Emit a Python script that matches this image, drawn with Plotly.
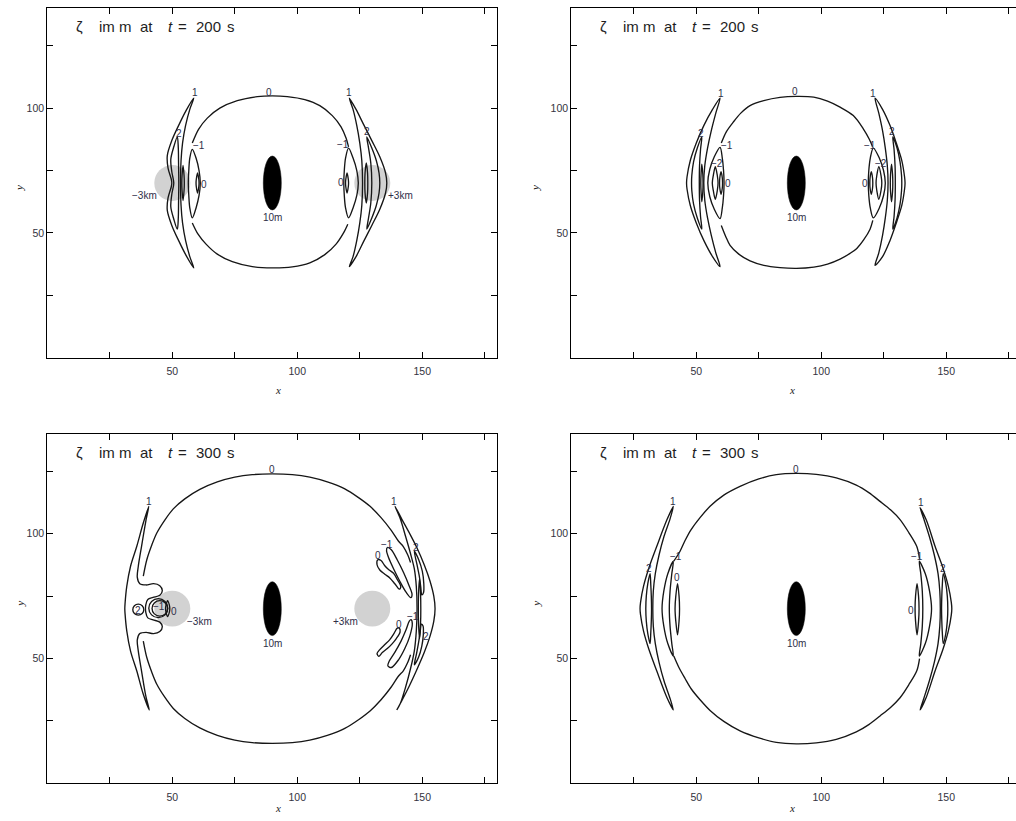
import plotly.graph_objects as go

# ---------------------------------------------------------------- layout grid
FIG_W, FIG_H = 1016, 821
PX_PER_UNIT = 2.5
LEFT_PANEL_PX = (47.3, 496.7)
RIGHT_PANEL_PX = (571.3, 1016.0)
TOP_PANEL_PX = (8.3, 357.7)
BOTTOM_PANEL_PX = (434.0, 783.3)

X_TICKS = [25, 50, 75, 100, 125, 150, 175]
X_TICK_TEXT = ["", "50", "", "100", "", "150", ""]
Y_TICKS = [25, 50, 75, 100, 125]
Y_TICK_TEXT = ["", "50", "", "100", ""]
Y_RANGE = [0, 140]

# ---------------------------------------------------------------- common marks
island_center = (90.0, 70.0)
island_half_axes = (3.6, 10.8)
source_centers = [(50.0, 70.0), (130.0, 70.0)]
source_radius = 7.2
source_labels = {"tl": [("−3km", 38.7, 64.9), ("+3km", 141.4, 64.9)],
                 "bl": [("−3km", 60.8, 64.8), ("+3km", 119.3, 64.8)]}
island_label = ("10m", 90.0, 56.1)
times = {"tl": "200", "tr": "200", "bl": "300", "br": "300"}

# ---------------------------------------------------------------- t = 200 s, with sources
tl_zero_top = [(58, 86), (60.5, 91.5), (64, 96), (69, 100), (76, 103), (84, 104.6), (90, 104.9),
               (96, 104.6), (103, 103.4), (109, 101), (114, 97), (117.5, 92.5), (119.5, 88), (120.5, 84.5)]
tl_zero_bottom = [(58, 54), (60.3, 49.5), (63.5, 45.5), (68, 41.5), (74, 38.5), (82, 36.5), (90, 36),
                  (98, 36.4), (105, 38), (111, 41.3), (115.5, 45.5), (118.5, 50), (120.2, 53.5)]
tl_closed = [
    [(58.6, 104), (55.5, 99), (52.5, 93), (49.8, 87), (48, 81), (48.3, 76), (49.6, 71.5), (49.8, 70),
     (49.6, 68.5), (48.3, 64), (48, 59), (49.8, 53), (52.5, 47), (55.5, 41), (58.6, 36), (57, 40.5),
     (55.3, 47), (54.1, 54), (53.5, 61), (53.3, 70), (53.5, 79), (54.1, 86), (55.3, 93), (57, 99.5), (58.6, 104)],
    [(52, 88.5), (50.6, 84.5), (49.4, 79.5), (49.8, 74.5), (50.6, 70), (49.8, 65.5), (49.4, 60.5), (50.6, 55.5),
     (52, 51.5), (52.4, 56), (52.5, 62), (52.6, 70), (52.5, 78), (52.4, 84), (52, 88.5)],
    [(54.3, 77), (54.7, 73), (54.8, 70), (54.7, 67), (54.3, 63), (53.9, 67), (53.8, 70), (53.9, 73), (54.3, 77)],
    [(58, 83.5), (59.5, 80), (60.7, 75), (61.2, 70), (60.7, 65), (59.5, 60), (58, 56), (57, 60), (56.6, 65),
     (56.4, 70), (56.6, 75), (57, 80), (58, 83.5)],
    [(60.1, 74), (60.6, 71.5), (60.7, 70), (60.6, 68.5), (60.1, 66), (59.6, 68.5), (59.5, 70), (59.6, 71.5), (60.1, 74)],
    [(120.8, 104), (123.5, 99.5), (126.5, 93.5), (129.8, 87), (133, 80.5), (135.3, 74), (135.8, 70), (135.3, 66),
     (133, 59.5), (129.8, 53), (126.5, 46.5), (123.5, 40.5), (120.8, 36.5), (122.3, 40.5), (123.8, 47), (125, 54),
     (125.8, 61), (126.1, 70), (125.8, 79), (125, 86), (123.8, 93), (122.3, 99.5), (120.8, 104)],
    [(127.8, 88.5), (129.8, 84), (131.6, 79), (132.7, 74), (133, 70), (132.7, 66), (131.6, 61), (129.8, 56),
     (127.8, 51.5), (128.5, 56), (129.4, 62), (129.8, 70), (129.4, 78), (128.5, 84), (127.8, 88.5)],
    [(127.6, 78), (128.1, 74), (128.2, 70), (128.1, 66), (127.6, 62), (127.1, 66), (127, 70), (127.1, 74), (127.6, 78)],
    [(120.5, 84), (122.3, 80), (123.8, 75), (124.4, 70), (123.8, 65), (122.3, 60), (120.5, 56), (119.3, 60),
     (118.8, 65), (118.6, 70), (118.8, 75), (119.3, 80), (120.5, 84)],
    [(119.9, 74), (120.4, 71.5), (120.5, 70), (120.4, 68.5), (119.9, 66), (119.4, 68.5), (119.3, 70), (119.4, 71.5), (119.9, 74)],
]
tl_labels = [("0", 88.8, 106.2), ("1", 59.1, 106.2), ("2", 52.7, 89.9), ("−1", 60.6, 85.2), ("0", 62.6, 69.6),
             ("1", 120.8, 106.2), ("2", 127.7, 90.6), ("−1", 118.2, 85.6), ("0", 117.3, 70.3)]

# ---------------------------------------------------------------- t = 200 s, island only
tr_zero_top = [(60, 86), (62, 90.5), (64.8, 94.4), (67.8, 98), (71.5, 101), (77, 103), (83.5, 104.3), (90, 104.7),
               (97, 104.4), (102.5, 102.8), (107.5, 100.4), (112.8, 97), (116.8, 91.7), (119.2, 87.5), (120.5, 84.5)]
tr_zero_bottom = [(60, 53), (61.8, 48.5), (63.5, 45), (67, 41.5), (71.5, 38.8), (77, 37), (83.5, 36.1), (90, 35.8),
                  (97, 36.3), (102.5, 37.5), (107.5, 39.5), (111.5, 41.8), (114.2, 43.8), (117, 47.3), (119.5, 51.5), (120.6, 55)]
tr_closed = [
    [(59.5, 104), (56.5, 99.5), (53, 93), (50, 86), (47.6, 79), (46.3, 72.5), (46.1, 70), (46.3, 67.5), (47.6, 61),
     (50, 54), (53, 47), (56.5, 40.5), (59.5, 36.5), (57.8, 42), (56, 49), (54.5, 56), (53.4, 63), (53, 70),
     (53.4, 77), (54.5, 84), (56, 91), (57.8, 98), (59.5, 104)],
    [(52.2, 88.5), (50.4, 84), (48.9, 78.5), (48.2, 73), (48.1, 70), (48.2, 67), (48.9, 61.5), (50.4, 56), (52.2, 51.5),
     (51.7, 56.5), (51.3, 63), (51.2, 70), (51.3, 77), (51.7, 83.5), (52.2, 88.5)],
    [(52.2, 77.5), (52.6, 73.5), (52.7, 70), (52.6, 66.5), (52.2, 62.5), (51.9, 66.5), (51.8, 70), (51.9, 73.5), (52.2, 77.5)],
    [(59.5, 84.3), (57.2, 80.5), (55.4, 75.5), (54.6, 70), (55.4, 64.5), (57.2, 59.5), (59.5, 55.7), (60.4, 60),
     (60.9, 65), (61.1, 70), (60.9, 75), (60.4, 80), (59.5, 84.3)],
    [(57.6, 76.5), (58.4, 73), (58.7, 70), (58.4, 67), (57.6, 63.5), (56.8, 67), (56.4, 70), (56.8, 73), (57.6, 76.5)],
    [(59.9, 74.5), (60.4, 72), (60.5, 70), (60.4, 68), (59.9, 65.5), (59.4, 68), (59.3, 70), (59.4, 72), (59.9, 74.5)],
    [(121.5, 104), (124.5, 99.5), (127.5, 93), (130, 86), (132.2, 79), (133.3, 72.5), (133.5, 70), (133.3, 67.5),
     (132.2, 61), (130, 54), (127.5, 47), (124.5, 40.5), (121.5, 37), (123, 42), (124.5, 49), (125.6, 56),
     (126.4, 63), (126.7, 70), (126.4, 77), (125.6, 84), (124.5, 91), (123, 98), (121.5, 104)],
    [(128.6, 88.5), (130.3, 84), (131.5, 78.5), (132.1, 73), (132.2, 70), (132.1, 67), (131.5, 61.5), (130.3, 56),
     (128.6, 51.5), (129.1, 56.5), (129.5, 63), (129.6, 70), (129.5, 77), (129.1, 83.5), (128.6, 88.5)],
    [(128.1, 77.5), (128.5, 73.5), (128.6, 70), (128.5, 66.5), (128.1, 62.5), (127.7, 66.5), (127.6, 70), (127.7, 73.5), (128.1, 77.5)],
    [(120.8, 84), (123.2, 80), (124.9, 75), (125.6, 70), (124.9, 65), (123.2, 60), (120.8, 56), (119.6, 60),
     (119, 65), (118.8, 70), (119, 75), (119.6, 80), (120.8, 84)],
    [(123, 76.5), (123.9, 73), (124.2, 70), (123.9, 67), (123, 63.5), (122.2, 67), (121.9, 70), (122.2, 73), (123, 76.5)],
    [(120, 74.5), (120.5, 72), (120.6, 70), (120.5, 68), (120, 65.5), (119.5, 68), (119.4, 70), (119.5, 72), (120, 74.5)],
]
tr_labels = [("0", 89.5, 106.6), ("1", 59.8, 105.9), ("2", 51.9, 89.9), ("−1", 62.1, 85.2), ("−2", 58.4, 77.8),
             ("0", 62.6, 70.0), ("1", 120.8, 105.9), ("2", 128.2, 90.6), ("−1", 119.3, 85.2), ("−2", 123.7, 77.8),
             ("0", 117.3, 70.0)]

# ---------------------------------------------------------------- t = 300 s, with sources
bl_zero_top = [(38.4, 83), (39.8, 89.6), (41.8, 95.5), (43.8, 100.3), (47, 105.5), (50.4, 110), (55, 114), (61, 117.8),
               (68, 120.8), (75, 122.7), (82, 123.7), (90, 124), (98, 123.7), (105, 122.7), (112, 120.8), (119, 118),
               (124.5, 114.5), (129.1, 111), (133.5, 106.5), (137.5, 101.5), (140.5, 97), (142.4, 94.9),
               (144.2, 91.5), (145.3, 88.5)]
bl_zero_bottom = [(38.4, 57), (39.8, 50.4), (41.8, 44.5), (43.8, 39.7), (47, 34.5), (50.4, 30), (55, 26), (61, 22.2),
                  (68, 19.2), (75, 17.3), (82, 16.3), (90, 16), (98, 16.3), (105, 17.3), (112, 19.2), (119, 22),
                  (124.5, 25.5), (129.1, 29), (133.5, 33.5), (137.5, 38.5), (140.5, 43), (142.4, 45.1),
                  (144.2, 48.5), (145.3, 51.5)]
bl_closed = [
    [(40.6, 111), (38.3, 104), (35.8, 95), (33.3, 87), (31.8, 79), (31.1, 72), (31, 70), (31.1, 68), (31.8, 61),
     (33.3, 53), (35.8, 45), (38.3, 36), (40.8, 29.4), (39.4, 35), (37.7, 45), (36.4, 53), (36, 57.5), (37, 60),
     (39.5, 60.5), (42.5, 60), (45, 60.8), (46, 62.8), (45, 64.6), (42.3, 65.5), (40.2, 66.3), (39.4, 68.5),
     (39.4, 71.5), (40.2, 73.7), (42.3, 74.5), (45, 75.4), (46, 77.2), (45, 79.2), (42.5, 80), (39.5, 79.5),
     (37, 80), (36, 82.5), (36.4, 87), (37.7, 95), (39.4, 105), (40.6, 111)],
    [(48.1, 73.2), (48.8, 71.5), (49, 70), (48.8, 68.5), (48.1, 66.8), (47.5, 68.5), (47.3, 70), (47.5, 71.5), (48.1, 73.2)],
    [(139.1, 111), (142, 105.5), (145, 100), (147.8, 94.5), (150.8, 87.5), (153.1, 81), (154.6, 75), (155.1, 70),
     (154.6, 65), (153.1, 59), (150.8, 52.5), (147.8, 45.5), (144.8, 39), (142, 33.5), (139.8, 29.4), (141.2, 32),
     (143.3, 38.5), (145.3, 46), (146.8, 53), (147.6, 61), (147.9, 70), (147.6, 79), (146.8, 86), (145.3, 92),
     (143.3, 99), (141.2, 106), (139.1, 111)],
    [(146.8, 93), (148.6, 89.5), (150, 85), (150.6, 80), (150.5, 76.5), (149.8, 75.5), (149.4, 78.5), (148.8, 83),
     (147.8, 88), (146.8, 93)],
    [(146.8, 47.5), (148.5, 50.5), (149.8, 55), (150.4, 59.5), (150.3, 63), (149.6, 63.8), (149.2, 61), (148.6, 57),
     (147.7, 52), (146.8, 47.5)],
    [(148.9, 82), (149.3, 76), (149.4, 70), (149.3, 64), (148.9, 58), (148.5, 64), (148.4, 70), (148.5, 76), (148.9, 82)],
    [(136, 94.5), (137.6, 93.6), (140, 89.5), (142.5, 84.5), (144.6, 79.5), (145.9, 75.7), (145.4, 74.4), (143.5, 76.6),
     (141, 81), (138.5, 86), (136.5, 90.5), (135.7, 93.2), (136, 94.5)],
    [(132.2, 89.6), (133.5, 89.3), (135, 87.2), (136.6, 85.6), (138.5, 84.2), (140, 81.7), (141.4, 78.8), (140.8, 77.8),
     (139, 80), (137, 82.3), (135, 83.8), (133, 85.5), (131.9, 87.6), (132.2, 89.6)],
    [(145.5, 65.6), (146, 64), (145, 59), (143, 54), (140.5, 49.5), (137.6, 46.4), (136.2, 47.1), (136.8, 49),
     (139, 52.5), (141.5, 57), (143.5, 61.5), (144.8, 65), (145.5, 65.6)],
    [(140.8, 62.2), (141.1, 60.6), (139.6, 58), (138, 56), (136, 54), (134, 52.4), (132.6, 50.9), (131.9, 52),
     (133, 53.6), (135, 55.6), (137, 57.6), (138.7, 60.1), (140, 62.2), (140.8, 62.2)],
]
# ring-shaped contours: centre x, centre y, radius
bl_rings = [(36.4, 69.6, 2.2), (44.4, 70.2, 3.8), (45.0, 70.1, 3.1)]
bl_labels = [("0", 89.7, 125.6), ("1", 40.8, 113.0), ("2", 36.2, 69.2), ("−1", 44.7, 70.8), ("0", 50.7, 68.8),
             ("1", 138.7, 113.0), ("−1", 135.8, 95.8), ("0", 132.2, 91.2), ("2", 147.3, 94.6), ("−1", 146.3, 67.0),
             ("0", 140.7, 63.6), ("2", 151.6, 59.0)]

# ---------------------------------------------------------------- t = 300 s, island only
br_zero_top = [(41, 89), (43.5, 93), (45.5, 97.3), (47.8, 101.5), (51.5, 106.5), (55.5, 111), (61, 115.5),
               (67.5, 119), (75, 122), (82, 123.7), (90, 124.2), (98, 123.8), (106, 122.4), (114, 119.5),
               (119, 116.5), (123.5, 113), (127.8, 109.5), (131.5, 105.7), (135, 100.5), (138.2, 94.9), (139.3, 90)]
br_zero_bottom = [(41, 51), (43, 46.5), (45.5, 42), (48, 37.8), (51.5, 33.5), (55.5, 29.2), (61, 24.8), (67.5, 21),
                  (75, 18.2), (82, 16.4), (90, 15.8), (98, 16.2), (106, 17.6), (114, 20.6), (119, 23.5),
                  (123.5, 27), (127.8, 30.5), (131.5, 34.3), (135, 39.5), (138.2, 45.1), (139.3, 50)]
br_closed = [
    [(40.8, 111), (38.2, 105.5), (34.2, 95), (31.1, 86.5), (28.9, 79), (27.7, 72.5), (27.5, 70), (27.7, 67.5),
     (28.9, 61), (31.1, 53.5), (34.2, 45), (38.2, 34.5), (40.8, 29.4), (39.5, 34), (37.1, 41), (35.1, 48.5),
     (33.6, 56), (32.8, 63), (32.6, 70), (32.8, 77), (33.6, 84), (35.1, 91.5), (37.1, 99), (39.5, 106), (40.8, 111)],
    [(31.5, 84), (30.6, 80), (30, 75), (29.8, 70), (30, 65), (30.6, 60), (31.5, 56), (31.8, 60.5), (32, 65),
     (32.1, 70), (32, 75), (31.8, 79.5), (31.5, 84)],
    [(40.8, 89), (38.6, 84), (37, 77), (36.3, 70), (37, 63), (38.6, 56), (40.8, 51), (40.2, 56), (39.5, 63),
     (39.2, 70), (39.5, 77), (40.2, 84), (40.8, 89)],
    [(42.5, 80), (43.1, 75), (43.3, 70), (43.1, 65), (42.5, 59.5), (41.8, 65), (41.5, 70), (41.8, 75), (42.5, 80)],
    [(139.5, 110.5), (142, 105.5), (145.5, 95), (148.6, 86.5), (150.8, 79), (152, 72.5), (152.2, 70), (152, 67.5),
     (150.8, 61), (148.6, 53.5), (145.5, 45), (142, 34.5), (139.5, 29.4), (141, 34), (143.2, 41), (145.2, 48.5),
     (146.7, 56), (147.4, 63), (147.6, 70), (147.4, 77), (146.7, 84), (145.2, 91.5), (143.2, 99), (141, 106), (139.5, 110.5)],
    [(148.8, 84), (149.8, 80), (150.4, 75), (150.6, 70), (150.4, 65), (149.8, 60), (148.8, 56), (148.4, 60.5),
     (148.2, 65), (148.1, 70), (148.2, 75), (148.4, 79.5), (148.8, 84)],
    [(139.2, 89), (141.6, 84), (143.3, 77), (144.1, 70), (143.3, 63), (141.6, 56), (139.2, 51), (139.8, 56),
     (140.4, 63), (140.6, 70), (140.4, 77), (139.8, 84), (139.2, 89)],
    [(138.3, 80), (138.9, 75), (139.1, 70), (138.9, 65), (138.3, 59.5), (137.7, 65), (137.5, 70), (137.7, 75), (138.3, 80)],
]
br_labels = [("0", 89.9, 125.8), ("1", 40.8, 113.0), ("2", 31.2, 86.1), ("−1", 42.0, 90.9), ("0", 42.2, 82.4),
             ("1", 139.7, 112.7), ("2", 148.8, 86.1), ("−1", 138.4, 90.9), ("0", 136.0, 69.3)]

# ---------------------------------------------------------------- styling
LINE_COLOR = "#161616"
LINE_WIDTH = 1.35
LABEL_FONT = dict(family="Liberation Sans, Arial, sans-serif", size=10, color="#2e2e48")
TICK_FONT = dict(family="Liberation Sans, Arial, sans-serif", size=10.5, color="#333340")
TITLE_FONT = dict(family="Liberation Sans, Arial, sans-serif", size=15, color="#1e1e1e")
SOURCE_FILL = "#d2d2d2"


def frac_x(px):
    return px / FIG_W


def frac_y(py):
    return 1 - py / FIG_H


panels = {
    "tl": dict(xa="x", ya="y", xpx=LEFT_PANEL_PX, ypx=TOP_PANEL_PX, sources=True,
               top=tl_zero_top, bottom=tl_zero_bottom, closed=tl_closed, rings=[], labels=tl_labels),
    "tr": dict(xa="x2", ya="y2", xpx=RIGHT_PANEL_PX, ypx=TOP_PANEL_PX, sources=False,
               top=tr_zero_top, bottom=tr_zero_bottom, closed=tr_closed, rings=[], labels=tr_labels),
    "bl": dict(xa="x3", ya="y3", xpx=LEFT_PANEL_PX, ypx=BOTTOM_PANEL_PX, sources=True,
               top=bl_zero_top, bottom=bl_zero_bottom, closed=bl_closed, rings=bl_rings, labels=bl_labels),
    "br": dict(xa="x4", ya="y4", xpx=RIGHT_PANEL_PX, ypx=BOTTOM_PANEL_PX, sources=False,
               top=br_zero_top, bottom=br_zero_bottom, closed=br_closed, rings=[], labels=br_labels),
}

fig = go.Figure()
shapes = []
annotations = []


def add_curve(points, xa, ya):
    fig.add_trace(go.Scatter(
        x=[p[0] for p in points], y=[p[1] for p in points], mode="lines",
        line=dict(color=LINE_COLOR, width=LINE_WIDTH, shape="spline", smoothing=0.9),
        xaxis=xa, yaxis=ya, hoverinfo="skip", showlegend=False))


for key, p in panels.items():
    xa, ya = p["xa"], p["ya"]
    # source discs underneath the contours
    if p["sources"]:
        for cx, cy in source_centers:
            shapes.append(dict(type="circle", xref=xa, yref=ya, layer="below",
                               x0=cx - source_radius, x1=cx + source_radius,
                               y0=cy - source_radius, y1=cy + source_radius,
                               fillcolor=SOURCE_FILL, line=dict(width=0)))
        for txt, lx, ly in source_labels[key[0] + "l"]:
            annotations.append(dict(text=txt, x=lx, y=ly, xref=xa, yref=ya, showarrow=False,
                                    font=LABEL_FONT, xanchor="center", yanchor="middle"))
    # island
    icx, icy = island_center
    iax, iby = island_half_axes
    shapes.append(dict(type="circle", xref=xa, yref=ya, x0=icx - iax, x1=icx + iax,
                       y0=icy - iby, y1=icy + iby, fillcolor="black", line=dict(color="black", width=0.5)))
    annotations.append(dict(text=island_label[0], x=island_label[1], y=island_label[2], xref=xa, yref=ya,
                            showarrow=False, font=LABEL_FONT))
    # contours
    add_curve(p["top"], xa, ya)
    add_curve(p["bottom"], xa, ya)
    for c in p["closed"]:
        add_curve(c, xa, ya)
    for cx, cy, r in p["rings"]:
        shapes.append(dict(type="circle", xref=xa, yref=ya, x0=cx - r, x1=cx + r, y0=cy - r, y1=cy + r,
                           line=dict(color=LINE_COLOR, width=LINE_WIDTH)))
    for txt, lx, ly in p["labels"]:
        annotations.append(dict(text=txt, x=lx, y=ly, xref=xa, yref=ya, showarrow=False,
                                font=LABEL_FONT, xanchor="center", yanchor="middle"))

    # panel heading, placed token by token
    x0px, _ = p["xpx"]
    y0px, y1px = p["ypx"]
    head_py = y0px + 18.4
    tokens = [("ζ", 31.7, False), ("im m", 67.7, False), ("at", 99.4, False), ("t", 123.5, True),
              ("=", 135.2, False), (times[key], 161.0, False), ("s", 183.5, False)]
    for txt, dx, ital in tokens:
        annotations.append(dict(text=f"<i>{txt}</i>" if ital else txt, x=frac_x(x0px + dx), y=frac_y(head_py),
                                xref="paper", yref="paper", showarrow=False, font=TITLE_FONT,
                                xanchor="center", yanchor="middle"))
    # axis titles
    annotations.append(dict(text="<i>x</i>", x=frac_x(x0px + 225.8), y=frac_y(y1px + 32.5), xref="paper",
                            yref="paper", showarrow=False, font=dict(family="Liberation Serif, serif", size=11, color="#222")))
    annotations.append(dict(text="<i>y</i>", x=frac_x(x0px - 35.6), y=frac_y(y0px + 175), xref="paper",
                            yref="paper", showarrow=False, textangle=-90,
                            font=dict(family="Liberation Serif, serif", size=11, color="#222")))


def xaxis_cfg(px_span, ya):
    width_units = (px_span[1] - px_span[0]) / PX_PER_UNIT
    return dict(domain=[frac_x(px_span[0]), frac_x(px_span[1])], range=[0, width_units], anchor=ya,
                tickvals=X_TICKS, ticktext=X_TICK_TEXT, ticks="inside", ticklen=6, tickwidth=1,
                tickcolor="black", showline=True, linecolor="black", linewidth=1.2, mirror="ticks",
                showgrid=False, zeroline=False, tickfont=TICK_FONT, ticklabelstandoff=4, fixedrange=True)


def yaxis_cfg(py_span, xa, mirror="ticks"):
    return dict(domain=[frac_y(py_span[1]), frac_y(py_span[0])], range=Y_RANGE, anchor=xa,
                tickvals=Y_TICKS, ticktext=Y_TICK_TEXT, ticks="inside", ticklen=6, tickwidth=1,
                tickcolor="black", showline=True, linecolor="black", linewidth=1.2, mirror=mirror,
                showgrid=False, zeroline=False, tickfont=TICK_FONT, fixedrange=True)


layout_axes = dict(
    xaxis=xaxis_cfg(LEFT_PANEL_PX, "y"), yaxis=yaxis_cfg(TOP_PANEL_PX, "x"),
    xaxis2=xaxis_cfg(RIGHT_PANEL_PX, "y2"), yaxis2=yaxis_cfg(TOP_PANEL_PX, "x2", mirror=False),
    xaxis3=xaxis_cfg(LEFT_PANEL_PX, "y3"), yaxis3=yaxis_cfg(BOTTOM_PANEL_PX, "x3"),
    xaxis4=xaxis_cfg(RIGHT_PANEL_PX, "y4"), yaxis4=yaxis_cfg(BOTTOM_PANEL_PX, "x4", mirror=False),
)
# tick marks only along the clipped right edge of the right-hand panels
for name, over, span in (("yaxis5", "y2", TOP_PANEL_PX), ("yaxis6", "y4", BOTTOM_PANEL_PX)):
    layout_axes[name] = dict(overlaying=over, side="right", range=Y_RANGE, tickvals=Y_TICKS,
                             ticks="inside", ticklen=6, tickwidth=1, tickcolor="black",
                             showticklabels=False, showline=False, showgrid=False, zeroline=False,
                             fixedrange=True, anchor="free", position=1.0)

fig.update_layout(
    width=FIG_W, height=FIG_H, margin=dict(l=0, r=0, t=0, b=0),
    paper_bgcolor="white", plot_bgcolor="white", showlegend=False,
    shapes=shapes, annotations=annotations, **layout_axes)

fig.write_html("out.html")
